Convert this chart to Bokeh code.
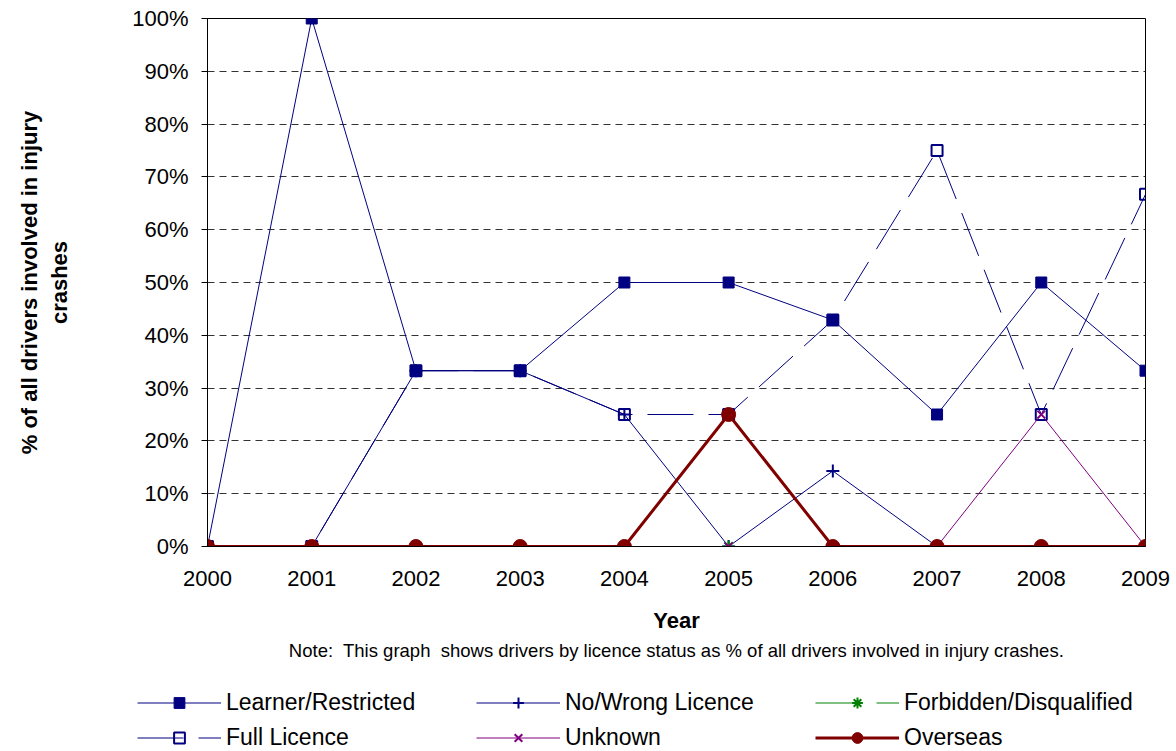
from bokeh.plotting import figure
from bokeh.layouts import column
from bokeh.models import Range1d, FixedTicker, PrintfTickFormatter, Legend, LegendItem, Title
from bokeh.embed import file_html
from bokeh.resources import INLINE

# ---- data (percent of all drivers involved in injury crashes) ----
years = [2000, 2001, 2002, 2003, 2004, 2005, 2006, 2007, 2008, 2009]
learner = [0, 100, 33.3, 33.3, 50, 50, 42.9, 25, 50, 33.3]
no_wrong = [0, 0, 33.3, 33.3, 25, 0, 14.3, 0, 0, 0]
forbidden = [0, 0, 0, 0, 0, 0, 0, 0, 0, 0]
full = [0, 0, 33.3, 33.3, 25, 25, 42.9, 75, 25, 66.7]
unknown = [0, 0, 0, 0, 0, 0, 0, 0, 25, 0]
overseas = [0, 0, 0, 0, 0, 25, 0, 0, 0, 0]
series_names = ["Learner/Restricted", "No/Wrong Licence", "Forbidden/Disqualified",
                "Full Licence", "Unknown", "Overseas"]
series_values = [learner, no_wrong, forbidden, full, unknown, overseas]
y_ticks = [0, 10, 20, 30, 40, 50, 60, 70, 80, 90, 100]
note_text = "Note:\u00a0 This graph\u00a0 shows drivers by licence status as % of all drivers involved in injury crashes."

FONT = "Liberation Sans"
W = 1176
H1 = 668
H2 = 751 - H1

NAVY = "#000080"
GREEN = "#008000"
PURPLE = "#800080"
MAROON = "#800000"

styles = [
    dict(line=dict(line_color=NAVY, line_width=1),
         mark=dict(marker="square", size=11, fill_color=NAVY, line_color=NAVY)),
    dict(line=dict(line_color=NAVY, line_width=1),
         mark=dict(marker="cross", size=13, line_color=NAVY, line_width=2)),
    dict(line=dict(line_color=GREEN, line_width=1, line_dash="46 15"),
         mark=dict(marker="asterisk", size=12, line_color=GREEN, line_width=2)),
    dict(line=dict(line_color=NAVY, line_width=1, line_dash="46 15"),
         mark=dict(marker="square", size=11, fill_color=None, line_color=NAVY, line_width=2)),
    dict(line=dict(line_color=PURPLE, line_width=1),
         mark=dict(marker="x", size=11, line_color=PURPLE, line_width=2)),
    dict(line=dict(line_color=MAROON, line_width=3),
         mark=dict(marker="circle", size=14, fill_color=MAROON, line_color=MAROON)),
]

# ---------------- main chart ----------------
p = figure(width=W, height=H1, output_backend="svg", toolbar_location=None,
           x_range=Range1d(2000, 2009), y_range=Range1d(0, 100),
           min_border_left=207, min_border_right=31, min_border_top=18,
           min_border_bottom=H1 - 546,
           background_fill_color="white", border_fill_color="white")
p.frame_align = False

p.outline_line_color = "black"
p.outline_line_width = 1
p.outline_line_alpha = 1

p.xgrid.visible = False
p.ygrid.ticker = FixedTicker(ticks=y_ticks)
p.ygrid.grid_line_color = "#333333"
p.ygrid.grid_line_dash = "7 5"
p.ygrid.grid_line_width = 1

p.yaxis.ticker = FixedTicker(ticks=y_ticks)
p.yaxis.formatter = PrintfTickFormatter(format="%d%%")
p.yaxis.major_tick_out = 6
p.yaxis.major_tick_in = 0
p.yaxis.minor_tick_out = 0
p.yaxis.minor_tick_in = 0
p.yaxis.major_label_standoff = 13
p.yaxis.axis_line_color = "black"
p.yaxis.major_tick_line_color = "black"
p.yaxis.major_label_text_font = FONT
p.yaxis.major_label_text_font_size = "22px"
p.yaxis.major_label_text_color = "black"
p.yaxis.axis_label = "% of all drivers involved in injury\ncrashes"
p.yaxis.axis_label_standoff = 57
p.yaxis.axis_label_text_font = FONT
p.yaxis.axis_label_text_font_style = "bold"
p.yaxis.axis_label_text_font_size = "22px"
p.yaxis.axis_label_text_color = "black"

p.xaxis.ticker = FixedTicker(ticks=years)
p.xaxis.major_label_overrides = {y: str(y) for y in years}
p.xaxis.major_tick_out = 0
p.xaxis.major_tick_in = 0
p.xaxis.minor_tick_out = 0
p.xaxis.minor_tick_in = 0
p.xaxis.major_label_standoff = 24
p.xaxis.axis_line_color = "black"
p.xaxis.major_label_text_font = FONT
p.xaxis.major_label_text_font_size = "22px"
p.xaxis.major_label_text_color = "black"
p.xaxis.axis_label = "Year"
p.xaxis.axis_label_standoff = 19
p.xaxis.axis_label_text_font = FONT
p.xaxis.axis_label_text_font_style = "bold"
p.xaxis.axis_label_text_font_size = "22px"
p.xaxis.axis_label_text_color = "black"

for vals, st in zip(series_values, styles):
    p.line(years, vals, **st["line"])
    p.scatter(years, vals, **st["mark"])

note = Title(text=note_text, align="center", text_font=FONT, text_font_size="18.5px",
             text_font_style="normal", text_color="black", standoff=4)
p.add_layout(note, "below")

# ---------------- legend strip (same series, its own legend renderers) ----------------
q = figure(width=W, height=H2, output_backend="svg", toolbar_location=None,
           x_axis_type=None, y_axis_type=None,
           x_range=Range1d(0, 1), y_range=Range1d(0, 1),
           min_border=0, min_border_left=0, min_border_right=0,
           min_border_top=0, min_border_bottom=0,
           background_fill_color="white", border_fill_color="white")
q.frame_align = False
q.outline_line_color = None
q.grid.visible = False

legend_items = {}
for name, vals, st in zip(series_names, series_values, styles):
    lr = q.line(years, vals, **st["line"])
    mr = q.scatter(years, vals, **st["mark"])
    legend_items[name] = LegendItem(label=name, renderers=[lr, mr])

# legend fills column by column: order so that rows read as in the reference
order = ["Learner/Restricted", "Full Licence", "No/Wrong Licence", "Unknown",
         "Forbidden/Disqualified", "Overseas"]
legend = Legend(items=[legend_items[n] for n in order], ncols=3, location=(137, 0),
                border_line_color=None, background_fill_alpha=0,
                padding=0, margin=0, spacing=8,
                glyph_width=84, glyph_height=27, label_height=27, label_width=242,
                label_standoff=5,
                label_text_font=FONT, label_text_font_size="23px", label_text_color="black")
q.add_layout(legend, "center")

layout = column(p, q, spacing=0)
open("out.html", "w").write(file_html(layout, INLINE))
